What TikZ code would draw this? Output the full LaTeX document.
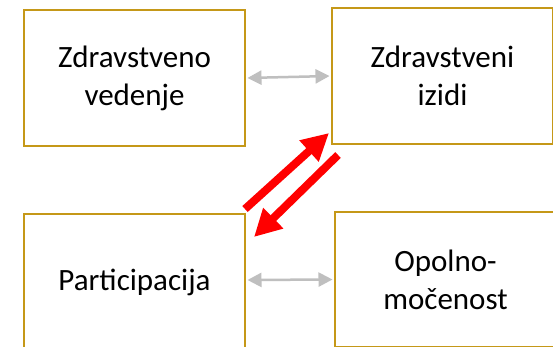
\documentclass[tikz,border=0pt]{standalone}
\usepackage{fontspec}
\setmainfont{Carlito}
\usetikzlibrary{arrows.meta}
\definecolor{boxgold}{RGB}{197,152,24}
\definecolor{arrgray}{RGB}{191,191,191}
\definecolor{arrred}{RGB}{255,0,0}
\begin{document}
\begin{tikzpicture}[x=1pt,y=-1pt,
  box/.style={draw=boxgold, line width=2pt, minimum width=221pt, minimum height=136pt,
    anchor=north west, align=center, inner sep=0pt, font=\fontsize{31}{38}\selectfont},
  grayarr/.style={draw=arrgray, line width=2.5pt,
    {Triangle[length=14pt,width=14pt]}-{Triangle[length=14pt,width=14pt]},
    shorten <=1.5pt, shorten >=1.5pt},
  redarr/.style={draw=arrred, line width=8pt, -{Triangle[length=27pt,width=27pt]}}]
\useasboundingbox (0,0) rectangle (553,347);
\fill[white] (0,0) rectangle (553,347);
\node[box] (tl) at (23,9) {Zdravstveno\\vedenje};
\node[box] (tr) at (331,7) {Zdravstveni\\izidi};
\node[box] (bl) at (23,213) {Participacija};
\node[box, minimum height=135pt] (br) at (334,211) {Opolno-\\močenost};
\draw[grayarr] (tl.east) -- (tr.west);
\draw[grayarr] (bl.east |- 0,280) -- (br.west);
\coordinate (a1s) at (245,209);
\coordinate (a1e) at (329,133);
\coordinate (a2s) at (338,155);
\coordinate (a2e) at (254,237);
\draw[redarr] (a1s) -- (a1e);
\draw[redarr] (a2s) -- (a2e);
\end{tikzpicture}
\end{document}
